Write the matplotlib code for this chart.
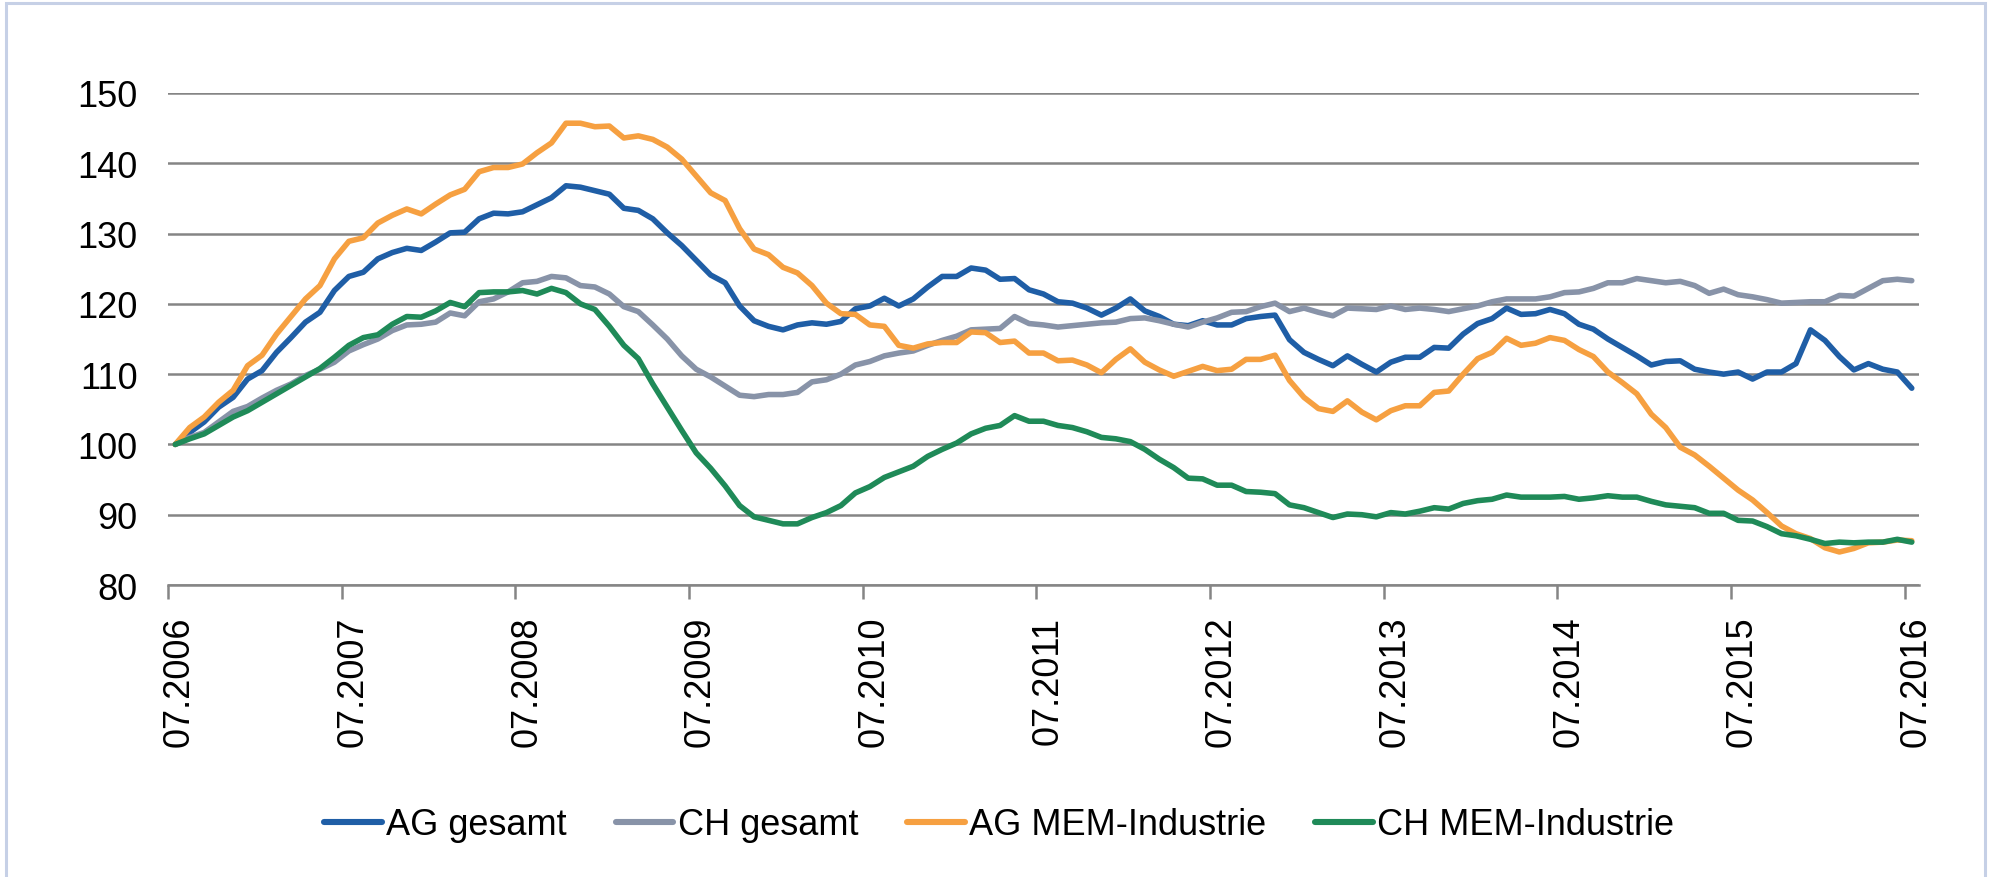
import numpy as np
import matplotlib
matplotlib.use("Agg")
import matplotlib.pyplot as plt
from matplotlib.patches import Rectangle

# -----------------------------
# Data: monthly index values, 07.2006 = 100
# -----------------------------
year_labels = [f"07.{y}" for y in range(2006, 2017)]

ag_gesamt = [
    100, 101.7, 103.2, 105.3, 106.7, 109.3, 110.5, 113.1, 115.2, 117.4, 118.8, 121.9,
    123.9, 124.5, 126.4, 127.3, 127.9, 127.6, 128.8, 130.1, 130.2, 132.1, 132.9, 132.8,
    133.1, 134.1, 135.1, 136.8, 136.6, 136.1, 135.6, 133.6, 133.3, 132.1, 130.1, 128.3,
    126.2, 124.1, 123.0, 119.7, 117.6, 116.8, 116.3, 117.0, 117.3, 117.1, 117.5, 119.3,
    119.7, 120.8, 119.7, 120.7, 122.4, 123.9, 123.9, 125.1, 124.8, 123.5, 123.6, 122.0,
    121.4, 120.3, 120.1, 119.4, 118.4, 119.4, 120.7, 119.0, 118.2, 117.1, 116.9, 117.6,
    117.0, 117.0, 117.9, 118.2, 118.4, 114.9, 113.1, 112.1, 111.2, 112.6, 111.4, 110.3,
    111.7, 112.4, 112.4, 113.8, 113.7, 115.7, 117.2, 117.9, 119.4, 118.5, 118.6, 119.2,
    118.6, 117.1, 116.4, 115.0, 113.8, 112.6, 111.3, 111.8, 111.9, 110.7, 110.3, 110.0,
    110.3, 109.3, 110.3, 110.3, 111.5, 116.3, 114.8, 112.5, 110.6, 111.5, 110.7, 110.3,
    108.0,
]

ch_gesamt = [
    100, 101.0, 101.7, 103.2, 104.7, 105.4, 106.6, 107.7, 108.6, 109.8, 110.7, 111.7,
    113.3, 114.2, 115.0, 116.2, 117.0, 117.1, 117.4, 118.7, 118.3, 120.3, 120.7, 121.7,
    123.0, 123.2, 123.9, 123.7, 122.6, 122.4, 121.4, 119.6, 118.9, 117.0, 115.0, 112.6,
    110.7, 109.6, 108.3, 107.0, 106.8, 107.1, 107.1, 107.4, 108.9, 109.2, 110.0, 111.3,
    111.8, 112.6, 113.0, 113.3, 114.1, 114.8, 115.4, 116.3, 116.4, 116.5, 118.2, 117.2,
    117.0, 116.7, 116.9, 117.1, 117.3, 117.4, 117.9, 118.0, 117.6, 117.1, 116.7, 117.4,
    118.0, 118.8, 118.9, 119.6, 120.1, 118.9, 119.4, 118.8, 118.3, 119.4, 119.3, 119.2,
    119.7, 119.2, 119.4, 119.2, 118.9, 119.3, 119.7, 120.3, 120.7, 120.7, 120.7, 121.0,
    121.6, 121.7, 122.2, 123.0, 123.0, 123.6, 123.3, 123.0, 123.2, 122.6, 121.5, 122.1,
    121.3, 121.0, 120.6, 120.1, 120.2, 120.3, 120.3, 121.2, 121.1, 122.2, 123.3, 123.5,
    123.3,
]

ag_mem = [
    100, 102.4, 103.9, 106.0, 107.7, 111.2, 112.7, 115.7, 118.2, 120.7, 122.6, 126.4,
    128.9, 129.4, 131.5, 132.6, 133.5, 132.8, 134.2, 135.5, 136.3, 138.8, 139.4, 139.4,
    139.9, 141.5, 142.9, 145.7, 145.7, 145.2, 145.3, 143.6, 143.9, 143.4, 142.3, 140.6,
    138.2, 135.8, 134.7, 130.7, 127.8, 127.0, 125.2, 124.4, 122.6, 120.1, 118.6, 118.5,
    117.0, 116.8, 114.1, 113.7, 114.3, 114.5, 114.5, 116.0, 115.9, 114.5, 114.7, 113.0,
    113.0, 111.9, 112.0, 111.3, 110.2, 112.1, 113.6, 111.7, 110.6, 109.7, 110.4, 111.1,
    110.5, 110.7, 112.1, 112.1, 112.7, 109.1, 106.7, 105.1, 104.7, 106.2, 104.6, 103.5,
    104.8, 105.5, 105.5, 107.4, 107.6, 110.0, 112.2, 113.1, 115.1, 114.1, 114.4, 115.2,
    114.8, 113.5, 112.5, 110.3, 108.8, 107.2, 104.3, 102.4, 99.6, 98.5, 96.9, 95.2,
    93.5, 92.1, 90.3, 88.4, 87.3, 86.6, 85.3, 84.7, 85.2, 86.0, 86.1, 86.4,
    86.3,
]

ch_mem = [
    100, 100.8, 101.5, 102.7, 103.9, 104.8, 106.0, 107.2, 108.4, 109.6, 110.8, 112.4,
    114.1, 115.2, 115.6, 117.1, 118.2, 118.1, 119.0, 120.2, 119.6, 121.6, 121.7, 121.7,
    121.9, 121.4, 122.2, 121.6, 120.0, 119.2, 116.8, 114.1, 112.2, 108.6, 105.3, 102.0,
    98.8, 96.6, 94.1, 91.3, 89.7, 89.2, 88.7, 88.7, 89.6, 90.3, 91.3, 93.1,
    94.0, 95.3, 96.1, 96.9, 98.3, 99.3, 100.2, 101.5, 102.3, 102.7, 104.1, 103.3,
    103.3, 102.7, 102.4, 101.8, 101.0, 100.8, 100.4, 99.3, 97.9, 96.7, 95.2, 95.1,
    94.2, 94.2, 93.3, 93.2, 93.0, 91.4, 91.0, 90.3, 89.6, 90.1, 90.0, 89.7,
    90.3, 90.1, 90.5, 91.0, 90.8, 91.6, 92.0, 92.2, 92.8, 92.5, 92.5, 92.5,
    92.6, 92.2, 92.4, 92.7, 92.5, 92.5, 91.9, 91.4, 91.2, 91.0, 90.2, 90.2,
    89.2, 89.1, 88.3, 87.3, 87.0, 86.5, 85.9, 86.1, 86.0, 86.1, 86.1, 86.5,
    86.1,
]

series = [
    ("AG gesamt", ag_gesamt, "#1f5ea6"),
    ("CH gesamt", ch_gesamt, "#8893a8"),
    ("AG MEM-Industrie", ag_mem, "#f6a041"),
    ("CH MEM-Industrie", ch_mem, "#1f8a58"),
]

# -----------------------------
# Figure
# -----------------------------
plt.rcParams["font.family"] = ["Liberation Sans", "DejaVu Sans"]
W, H = 1989, 878
fig = plt.figure(figsize=(W / 100, H / 100), dpi=100)
ax = fig.add_axes([168 / W, 1 - 586 / H, (1919 - 168) / W, (586 - 94) / H])

x = np.arange(len(ag_gesamt))
for name, vals, col in series:
    ax.plot(x, vals, color=col, lw=4.0, label=name,
            solid_joinstyle="round", solid_capstyle="round", zorder=3)

ax.set_xlim(-0.5, len(x) - 0.5)
ax.set_ylim(80, 150)
ax.set_yticks(range(80, 151, 10))
ax.yaxis.grid(True, color="#858585", lw=1.8)
ax.set_axisbelow(True)
ax.tick_params(axis="y", length=0, pad=22, labelsize=26)

# year ticks at category boundaries, labels slightly offset
year_pos = np.arange(0, len(x), 12) - 0.5
ax.set_xticks(year_pos)
ax.set_xticklabels([])
ax.set_xticks(year_pos + 0.8, minor=True)
ax.set_xticklabels(year_labels, minor=True, rotation=90, fontsize=26)
ax.tick_params(axis="x", which="major", length=10, width=1.8, color="#858585")
ax.tick_params(axis="x", which="minor", length=0, pad=22)

for s in ["top", "right", "left"]:
    ax.spines[s].set_visible(False)
ax.spines["bottom"].set_color("#858585")
ax.spines["bottom"].set_linewidth(1.8)

leg = fig.legend(loc="center", bbox_to_anchor=(999 / W, 1 - 826 / H), ncol=4,
                 frameon=False, handlelength=1.6, handletextpad=0.12,
                 columnspacing=1.35, fontsize=26)
for ln in leg.get_lines():
    ln.set_linewidth(4.4)

# light frame around the chart
fig.patches.append(Rectangle((6 / W, -0.02), (1985 - 6) / W, 1 - 4 / H + 0.02,
                             transform=fig.transFigure, fill=False,
                             edgecolor="#c6d0e6", lw=2.2))

fig.savefig("out.png", dpi=100)
